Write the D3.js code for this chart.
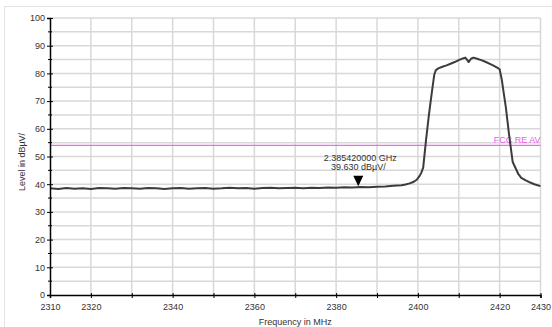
<!DOCTYPE html>
<html><head><meta charset="utf-8">
<script src="https://cdn.jsdelivr.net/npm/d3@7"></script>
<style>body{margin:0;background:#fff}svg{display:block}text{font-family:"Liberation Sans",Arial,sans-serif}</style>
</head><body><svg id="c" width="552" height="327"></svg>
<script>
const freq = [2310,2312,2314,2316,2318,2320,2322,2324,2326,2328,2330,2332,2334,2336,2338,2340,2342,2344,2346,2348,2350,2352,2354,2356,2358,2360,2362,2364,2366,2368,2370,2372,2374,2376,2378,2380,2382,2384,2386,2388,2390,2392,2394,2396,
  2397,2398,2399,2399.7,2400.3,2400.8,2401.3,2402,2402.7,2403.4,2404,2404.4,2405,2406,2407,2408,2409,2410,2411,2411.6,2412.1,2412.4,2413,2413.6,2414.5,2415.5,2416.5,2417.5,2418.5,2419.5,2420,2420.5,2421,2421.5,2422.3,2423.2,2424,2424.6,2425.3,2426.4,2427.5,2428.5,2429.3,2430];
const level = [38.5,38.3,38.6,38.4,38.5,38.3,38.6,38.5,38.4,38.6,38.5,38.4,38.6,38.5,38.3,38.5,38.6,38.4,38.5,38.6,38.4,38.5,38.7,38.5,38.6,38.4,38.6,38.7,38.5,38.6,38.7,38.5,38.7,38.6,38.8,38.7,38.9,38.8,39.0,38.9,39.1,39.2,39.4,39.6,
  39.9,40.3,40.9,41.6,42.7,44.0,46.0,56.0,65.0,73.0,79.5,81.2,81.8,82.4,82.9,83.5,84.1,84.8,85.4,85.7,84.8,84.1,85.3,85.7,85.3,84.8,84.2,83.5,82.8,82.0,81.5,78.0,73.0,68.0,58.0,48.0,45.5,43.6,42.3,41.4,40.6,40.0,39.6,39.3];
const xTickLabels = [2310,2320,2340,2360,2380,2400,2420,2430];
const xTicks = [2310,2320,2330,2340,2350,2360,2370,2380,2390,2400,2410,2420,2430];
const yTickLabels = [0,10,20,30,40,50,60,70,80,90,100];
const yGrid = [5,10,15,20,25,30,35,40,45,50,55,60,65,70,75,80,85,90,95,100];
const limitValue = 54;
const limitLabel = "FCC RE AV";
const marker = {f: 2385.42, v: 39.63, l1: "2.385420000 GHz", l2: "39.630 dBµV/"};

const svg = d3.select("#c");
const x = d3.scaleLinear([2310,2430],[50,540.5]);
const y = d3.scaleLinear([0,100],[295,18]);
const txt = "#333";

// outer frame
svg.append("rect").attr("x",4.5).attr("y",6.5).attr("width",600).attr("height",400)
  .attr("fill","none").attr("stroke","#e3e3e3").attr("stroke-width",1);

// grid
svg.append("g").selectAll("line").data(yGrid).join("line")
  .attr("x1",x(2310)).attr("x2",x(2430)).attr("y1",d=>y(d)).attr("y2",d=>y(d))
  .attr("stroke","#d8d8d8").attr("stroke-width",1.5);
svg.append("g").selectAll("line").data(xTicks.slice(1)).join("line")
  .attr("x1",d=>x(d)).attr("x2",d=>x(d)).attr("y1",y(0)).attr("y2",y(100))
  .attr("stroke","#d8d8d8").attr("stroke-width",1.5);

// limit line
svg.append("line").attr("x1",x(2310)).attr("x2",x(2430)).attr("y1",y(limitValue)).attr("y2",y(limitValue))
  .attr("stroke","#ee6aee").attr("stroke-width",1.2);
svg.append("text").attr("x",x(2430)).attr("y",y(limitValue)-2).attr("text-anchor","end")
  .attr("fill","#ee5aee").attr("font-size",9).text(limitLabel);

// trace
svg.append("path").datum(freq.map((f,i)=>[f,level[i]]))
  .attr("d",d3.line().x(d=>x(d[0])).y(d=>y(d[1])))
  .attr("fill","none").attr("stroke","#3c3c3c").attr("stroke-width",2).attr("stroke-linejoin","round");

// axes
const yAxis = d3.axisLeft(y).tickValues(yTickLabels).tickSize(3).tickPadding(2);
const gy = svg.append("g").attr("transform",`translate(${x(2310)},0)`).call(yAxis);
gy.select(".domain").attr("stroke","#000").attr("stroke-width",1.5);
gy.selectAll(".tick line").attr("stroke","#000").attr("x2",-3).attr("x1",3);
gy.selectAll(".tick text").attr("fill",txt).attr("font-size",9).attr("font-family","Liberation Sans, Arial");
svg.append("g").selectAll("line").data([5,15,25,35,45,55,65,75,85,95]).join("line")
  .attr("x1",x(2310)-2).attr("x2",x(2310)+2).attr("y1",d=>y(d)).attr("y2",d=>y(d)).attr("stroke","#000");

const xAxis = d3.axisBottom(x).tickValues(xTicks).tickSize(3).tickPadding(6)
  .tickFormat(d=>xTickLabels.includes(d)?d:"");
const gx = svg.append("g").attr("transform",`translate(0,${y(0)})`).call(xAxis);
gx.select(".domain").attr("stroke","#000").attr("stroke-width",1.5);
gx.selectAll(".tick line").attr("stroke","#000").attr("y1",-2).attr("y2",3);
gx.selectAll(".tick text").attr("fill",txt).attr("font-size",9).attr("font-family","Liberation Sans, Arial");

// axis titles
svg.append("text").attr("x",(x(2310)+x(2430))/2).attr("y",325).attr("text-anchor","middle")
  .attr("fill",txt).attr("font-size",9).text("Frequency in MHz");
svg.append("text").attr("transform",`translate(24.5,162) rotate(-90)`).attr("text-anchor","middle")
  .attr("fill",txt).attr("font-size",9).text("Level in dBµV/");

// marker
const mx = x(marker.f), my = y(marker.v);
svg.append("path").attr("d",`M${mx-5},${my-9.5}L${mx+5},${my-9.5}L${mx},${my+1}Z`).attr("fill","#000");
svg.append("text").attr("x",mx+2).attr("y",my-24).attr("text-anchor","middle").attr("fill",txt).attr("font-size",9).text(marker.l1);
svg.append("text").attr("x",mx).attr("y",my-15).attr("text-anchor","middle").attr("fill",txt).attr("font-size",9).text(marker.l2);
</script></body></html>
